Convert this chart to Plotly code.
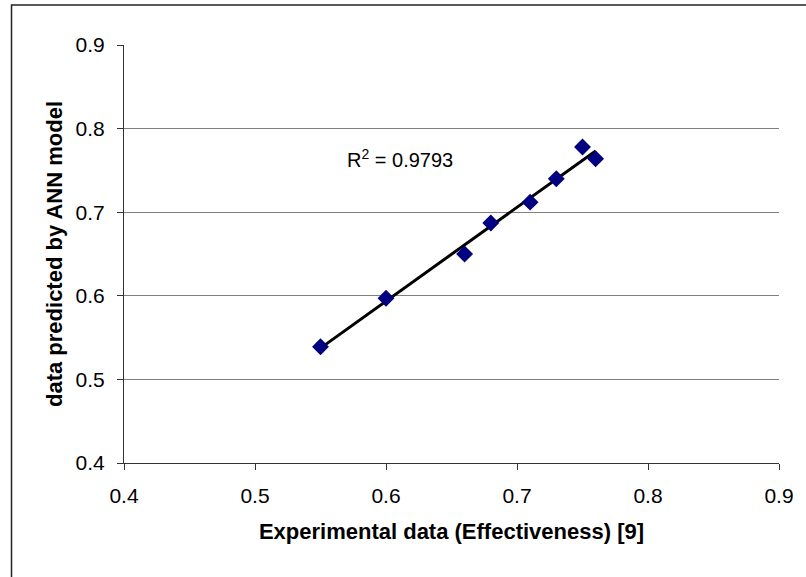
import numpy as np
import plotly.graph_objects as go

# Data
experimental = [0.55, 0.60, 0.66, 0.68, 0.71, 0.73, 0.75, 0.76]
predicted = [0.539, 0.597, 0.650, 0.687, 0.712, 0.740, 0.778, 0.764]
r2_label = "R<sup>2</sup> = 0.9793"
tick_vals = [0.4, 0.5, 0.6, 0.7, 0.8, 0.9]
tick_text = ["0.4", "0.5", "0.6", "0.7", "0.8", "0.9"]
x_title = "Experimental data (Effectiveness) [9]"
y_title = "data predicted by ANN model"

slope, intercept = np.polyfit(experimental, predicted, 1)
trend_x = [min(experimental), max(experimental)]
trend_y = [slope * v + intercept for v in trend_x]

FONT = "Liberation Sans, Arial, sans-serif"

fig = go.Figure()
fig.add_trace(go.Scatter(
    x=trend_x, y=trend_y, mode="lines",
    line=dict(color="black", width=3), showlegend=False, hoverinfo="skip"))
fig.add_trace(go.Scatter(
    x=experimental, y=predicted, mode="markers",
    marker=dict(symbol="diamond", size=13, color="#000080",
                line=dict(width=0)),
    showlegend=False))

fig.add_annotation(x=0.611, y=0.764, xref="x", yref="y", text=r2_label,
                   showarrow=False, xanchor="center", yanchor="middle",
                   font=dict(family=FONT, size=20, color="black"))

# outer frame
fig.add_shape(type="rect", xref="paper", yref="paper",
              x0=(11 - 124) / 658, x1=(830 - 124) / 658,
              y0=(463 - 600) / 418, y1=(463 - 5) / 418,
              line=dict(color="#222222", width=1.5), layer="below")

fig.update_layout(
    width=806, height=577,
    margin=dict(l=124, r=24, t=45, b=114),
    paper_bgcolor="white", plot_bgcolor="white",
    font=dict(family=FONT, size=21, color="black"),
    xaxis=dict(range=[0.4, 0.9], tickvals=tick_vals, ticktext=tick_text,
               showgrid=False, zeroline=False, showline=True,
               linecolor="#333333", linewidth=1.2, ticks="outside",
               ticklen=6, tickcolor="#333333", tickfont=dict(size=21),
               ticklabelstandoff=8,
               title=dict(text="<b>" + x_title + "</b>", standoff=17,
                          font=dict(size=22))),
    yaxis=dict(range=[0.4, 0.9], tickvals=tick_vals, ticktext=tick_text,
               showgrid=True, gridcolor="#808080", gridwidth=1.3,
               zeroline=False, showline=True,
               linecolor="#333333", linewidth=1.2, ticks="outside",
               ticklen=6, tickcolor="#333333", tickfont=dict(size=21),
               ticklabelstandoff=8,
               title=dict(text="<b>" + y_title + "</b>", standoff=6,
                          font=dict(size=22))),
)

fig.write_html("out.html")
